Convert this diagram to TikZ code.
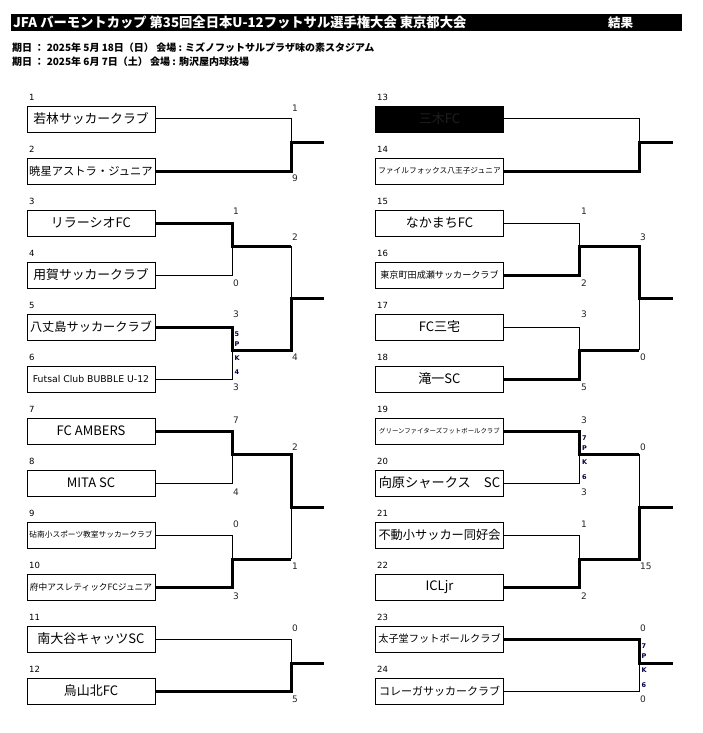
\documentclass[tikz,border=0pt]{standalone}
\usepackage{fontspec}
\newfontfamily\jp{Noto Sans CJK JP}
\newfontfamily\vd{DejaVu Sans}
\newcommand{\fsz}[1]{\fontsize{#1}{#1}\selectfont}
\begin{document}
\begin{tikzpicture}[x=1pt,y=-1pt,
  team/.style={draw, line width=0.9pt, minimum width=128pt, minimum height=26pt, inner sep=0pt, font=\jp},
  seed/.style={anchor=west, inner sep=0pt, font=\vd\fsz{8.5}},
  score/.style={anchor=west, inner sep=0pt, font=\vd\fsz{9}, text=black!85},
  pk/.style={anchor=west, inner sep=0pt, font=\vd\bfseries\fsz{6.5}, text=black!75!blue},
  thn/.style={line width=1pt},
  thk/.style={line width=3pt, line join=miter}]
\useasboundingbox (0,0) rectangle (703,733);
% header
\node[fill=black, minimum width=671pt, minimum height=17pt, inner sep=0pt] (bar) at (346.5,22.5) {};
\node[anchor=west, inner sep=0pt, text=white, font=\jp\bfseries\fsz{13.3}] (title) at (13,22.5) {JFA バーモントカップ 第35回全日本U-12フットサル選手権大会 東京都大会};
\node[anchor=west, inner sep=0pt, text=white, font=\jp\bfseries\fsz{12.5}] (result) at (608,22.5) {結果};
\node[anchor=west, inner sep=0pt, font=\jp\bfseries\fsz{10}] (date1) at (12,48) {期日 ： 2025年 5月 18日（日） 会場 : ミズノフットサルプラザ味の素スタジアム};
\node[anchor=west, inner sep=0pt, font=\jp\bfseries\fsz{10}] (date2) at (12,62) {期日 ： 2025年 6月 7日（土） 会場 : 駒沢屋内球技場};
% left teams
\node[team] (b1) at (91,119) {\fsz{12.8}若林サッカークラブ};
\node[team] (b2) at (91,171) {\fsz{11.3}暁星アストラ・ジュニア};
\node[team] (b3) at (91,223) {\fsz{13}リラーシオFC};
\node[team] (b4) at (91,275) {\fsz{12.8}用賀サッカークラブ};
\node[team] (b5) at (91,327) {\fsz{12.2}八丈島サッカークラブ};
\node[team] (b6) at (91,379) {\vd\fsz{9.3}Futsal Club BUBBLE U-12};
\node[team] (b7) at (91,431) {\fsz{13}FC AMBERS};
\node[team] (b8) at (91,483) {\fsz{13}MITA SC};
\node[team] (b9) at (91,535) {\fsz{7.7}砧南小スポーツ教室サッカークラブ};
\node[team] (b10) at (91,587) {\fsz{8.7}府中アスレティックFCジュニア};
\node[team] (b11) at (91,639) {\fsz{13}南大谷キャッツSC};
\node[team] (b12) at (91,691) {\fsz{13}烏山北FC};
% right teams
\node[team, fill=black, text=black!88!white] (b13) at (439.5,119) {\fsz{13}三木FC};
\node[team] (b14) at (439.5,171) {\fsz{7.7}ファイルフォックス八王子ジュニア};
\node[team] (b15) at (439.5,223) {\fsz{13}なかまちFC};
\node[team] (b16) at (439.5,275) {\fsz{9.1}東京町田成瀬サッカークラブ};
\node[team] (b17) at (439.5,327) {\fsz{13}FC三宅};
\node[team] (b18) at (439.5,379) {\fsz{13}滝一SC};
\node[team] (b19) at (439.5,431) {\fsz{6.4}グリーンファイターズフットボールクラブ};
\node[team] (b20) at (439.5,483) {\fsz{13.2}向原シャークス　SC};
\node[team] (b21) at (439.5,535) {\fsz{12.2}不動小サッカー同好会};
\node[team] (b22) at (439.5,587) {\fsz{13}ICLjr};
\node[team] (b23) at (439.5,639) {\fsz{10.2}太子堂フットボールクラブ};
\node[team] (b24) at (439.5,691) {\fsz{11}コレーガサッカークラブ};
% seeds
\foreach \i in {1,...,12} {\node[seed] (n\i) at (29,{97+52*(\i-1)}) {\i};}
\foreach \i in {13,...,24} {\node[seed] (n\i) at (377,{97+52*(\i-13)}) {\i};}
% left junctions
\coordinate (lA) at (291,142); \coordinate (lAo) at (324,142);
\coordinate (l34) at (232,246); \coordinate (k34) at (291,246);
\coordinate (l56) at (232,350); \coordinate (k56) at (291,350);
\coordinate (lB) at (291,298); \coordinate (lBo) at (324,298);
\coordinate (l78) at (232,454); \coordinate (k78) at (291,454);
\coordinate (l910) at (232,559); \coordinate (k910) at (291,559);
\coordinate (lC) at (291,507); \coordinate (lCo) at (324,507);
\coordinate (lD) at (291,663); \coordinate (lDo) at (324,663);
% right junctions
\coordinate (rA) at (639,142); \coordinate (rAo) at (673,142);
\coordinate (r1516) at (579,246); \coordinate (q1516) at (639,246);
\coordinate (r1718) at (579,350); \coordinate (q1718) at (639,350);
\coordinate (rB) at (639,298); \coordinate (rBo) at (673,298);
\coordinate (r1920) at (579,454); \coordinate (q1920) at (639,454);
\coordinate (r2122) at (579,559); \coordinate (q2122) at (639,559);
\coordinate (rC) at (639,507); \coordinate (rCo) at (673,507);
\coordinate (rD) at (639,663); \coordinate (rDo) at (673,663);
% left lines
\draw[thn] (b1.east) -| (lA);
\draw[thk] (b2.east) -| (lA) -- (lAo);
\draw[thn] (b4.east) -| (l34);
\draw[thk] (b3.east) -| (l34) -- (k34);
\draw[thn] (k34) -- (lB);
\draw[thn] (b6.east) -| (l56);
\draw[thk] (b5.east) -| (l56) -- (k56) -- (lB) -- (lBo);
\draw[thn] (b8.east) -| (l78);
\draw[thk] (b7.east) -| (l78) -- (k78) -- (lC) -- (lCo);
\draw[thn] (b9.east) -| (l910);
\draw[thk] (b10.east) -| (l910) -- (k910);
\draw[thn] (k910) -- (lC);
\draw[thn] (b11.east) -| (lD);
\draw[thk] (b12.east) -| (lD) -- (lDo);
% right lines
\draw[thn] (b13.east) -| (rA);
\draw[thk] (b14.east) -| (rA) -- (rAo);
\draw[thn] (b15.east) -| (r1516);
\draw[thk] (b16.east) -| (r1516) -- (q1516) -- (rB) -- (rBo);
\draw[thn] (b17.east) -| (r1718);
\draw[thk] (b18.east) -| (r1718) -- (q1718);
\draw[thn] (q1718) -- (rB);
\draw[thn] (b20.east) -| (r1920);
\draw[thk] (b19.east) -| (r1920) -- (q1920);
\draw[thn] (q1920) -- (rC);
\draw[thn] (b21.east) -| (r2122);
\draw[thk] (b22.east) -| (r2122) -- (q2122) -- (rC) -- (rCo);
\draw[thn] (b24.east) -| (rD);
\draw[thk] (b23.east) -| (rD) -- (rDo);
% left scores
\node[score] (s3) at (233,211) {1};
\node[score] (s4) at (233,283) {0};
\node[score] (s5) at (233,314) {3};
\node[score] (s6) at (233,387) {3};
\node[score] (s7) at (233,420) {7};
\node[score] (s8) at (233,492) {4};
\node[score] (s9) at (233,524) {0};
\node[score] (s10) at (233,596) {3};
\node[score] (t1) at (292,108) {1};
\node[score] (t2) at (292,178) {9};
\node[score] (tB1) at (292,237) {2};
\node[score] (tB2) at (292,357) {4};
\node[score] (tC1) at (292,447) {2};
\node[score] (tC2) at (292,566) {1};
\node[score] (t11) at (292,628) {0};
\node[score] (t12) at (292,699) {5};
\node[pk] (pl1) at (234.5,334) {5};
\node[pk] (pl2) at (234.5,344) {P};
\node[pk] (pl3) at (234.5,358) {K};
\node[pk] (pl4) at (234.5,372) {4};
% right scores
\node[score] (s15) at (581,211) {1};
\node[score] (s16) at (581,283) {2};
\node[score] (s17) at (581,314) {3};
\node[score] (s18) at (581,387) {5};
\node[score] (s19) at (581,420) {3};
\node[score] (s20) at (581,492) {3};
\node[score] (s21) at (581,524) {1};
\node[score] (s22) at (581,596) {2};
\node[score] (uB1) at (640,237) {3};
\node[score] (uB2) at (640,357) {0};
\node[score] (uC1) at (640,447) {0};
\node[score] (uC2) at (640,566) {15};
\node[score] (u23) at (640,628) {0};
\node[score] (u24) at (640,699) {0};
\node[pk] (pa1) at (582,438) {7};
\node[pk] (pa2) at (582,448) {P};
\node[pk] (pa3) at (582,462) {K};
\node[pk] (pa4) at (582,477) {6};
\node[pk] (pb1) at (641.5,646) {7};
\node[pk] (pb2) at (641.5,656) {P};
\node[pk] (pb3) at (641.5,670) {K};
\node[pk] (pb4) at (641.5,685) {6};
\end{tikzpicture}
\end{document}
